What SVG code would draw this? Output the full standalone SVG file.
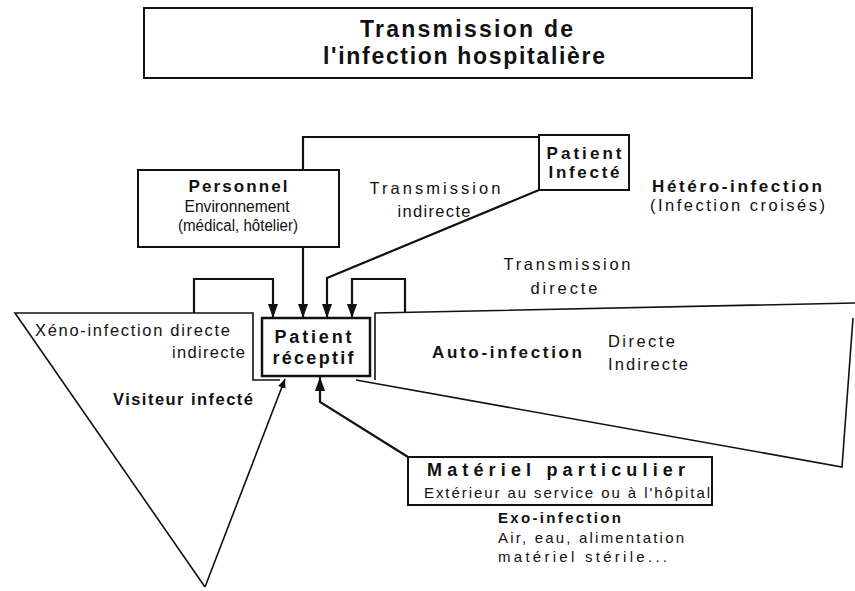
<svg xmlns="http://www.w3.org/2000/svg" width="855" height="591" viewBox="0 0 855 591">
<defs>
<marker id="arr" markerUnits="userSpaceOnUse" markerWidth="14" markerHeight="10" viewBox="0 0 14 10" refX="14" refY="5" orient="auto">
<path d="M0,0 L14,5 L0,10 z" fill="#111"/>
</marker>
<marker id="arrs" markerUnits="userSpaceOnUse" markerWidth="9" markerHeight="8" viewBox="0 0 9 8" refX="9" refY="4" orient="auto">
<path d="M0,0 L9,4 L0,8 z" fill="#111"/>
</marker>
</defs>
<style>
.box{fill:#fff;stroke:#111;stroke-width:2}
.shape{fill:none;stroke:#111;stroke-width:1.6;stroke-linejoin:miter}
.con{fill:none;stroke:#111;stroke-width:2.2}
text{font-family:"Liberation Sans",Arial,sans-serif;fill:#111;font-size:16.5px}
.b{font-weight:bold}
.t{font-weight:bold;font-size:23px}
.s15{font-size:15px}
.s16{font-size:16px}
.s17{font-size:17px}
.s18{font-size:18px}
</style>
<rect width="855" height="591" fill="#fff"/>

<g id="title">
<rect class="box" x="144" y="8" width="608" height="70"/>
<text class="t" x="360" y="37" textLength="213" lengthAdjust="spacing">Transmission de</text>
<text class="t" x="323" y="64" textLength="282" lengthAdjust="spacing">l'infection hospitalière</text>
</g>

<g id="visiteur-infecte">
<polyline class="shape" points="205,587 15,313 253,313 253,380 280,380"/>
<text x="35" y="336" textLength="195" lengthAdjust="spacing">Xéno-infection directe</text>
<text x="172" y="358" textLength="73" lengthAdjust="spacing">indirecte</text>
<text class="b" x="113" y="405" textLength="140" lengthAdjust="spacing">Visiteur infecté</text>
</g>

<g id="auto-infection">
<path class="shape" d="M375,380 L375,313 L855,303 M853,318 L842,467 L356,380"/>
<text class="b s17" x="432" y="358" textLength="150" lengthAdjust="spacing">Auto-infection</text>
<text x="608" y="347" textLength="67" lengthAdjust="spacing">Directe</text>
<text x="608" y="370" textLength="80" lengthAdjust="spacing">Indirecte</text>
</g>

<g id="connectors">
<polyline class="con" points="539,137 303,137 303,170"/>
<line class="con" x1="303" y1="247" x2="303" y2="318" marker-end="url(#arr)"/>
<polyline class="con" points="539,190 327,278 327,318" marker-end="url(#arr)"/>
<polyline class="con" points="194,313 194,279 273,279 273,318" marker-end="url(#arr)"/>
<polyline class="con" points="405,312 405,279 352,279 352,318" marker-end="url(#arr)"/>
<polyline class="con" points="408,457 320,402 320,377" marker-end="url(#arr)"/>
<line class="shape" x1="205" y1="587" x2="285" y2="379" marker-end="url(#arrs)"/>
</g>

<g id="personnel">
<rect class="box" x="138" y="170" width="201" height="77"/>
<text class="b s17" x="238" y="192" text-anchor="middle" textLength="99" lengthAdjust="spacing">Personnel</text>
<text class="s16" x="237" y="212" text-anchor="middle" textLength="105" lengthAdjust="spacingAndGlyphs">Environnement</text>
<text class="s16" x="238" y="231" text-anchor="middle" textLength="120" lengthAdjust="spacingAndGlyphs">(médical, hôtelier)</text>
</g>

<g id="patient-infecte">
<rect class="box" x="539" y="135" width="90" height="55"/>
<text class="b s17" x="584" y="159" text-anchor="middle" textLength="75" lengthAdjust="spacing">Patient</text>
<text class="b s17" x="584" y="178" text-anchor="middle" textLength="71" lengthAdjust="spacing">Infecté</text>
</g>

<g id="patient-receptif">
<rect class="box" x="262" y="318" width="108" height="58" style="stroke-width:2.5"/>
<text class="b s18" x="313" y="343" text-anchor="middle" textLength="77" lengthAdjust="spacing">Patient</text>
<text class="b s18" x="313" y="364" text-anchor="middle" textLength="81" lengthAdjust="spacing">réceptif</text>
</g>

<g id="materiel">
<rect class="box" x="408" y="457" width="304" height="48"/>
<text class="b s18" x="556" y="476" text-anchor="middle" textLength="258" lengthAdjust="spacing">Matériel particulier</text>
<text class="s15" x="567" y="498" text-anchor="middle" textLength="286" lengthAdjust="spacing">Extérieur au service ou à l'hôpital</text>
</g>

<g id="labels">
<text x="435" y="194" text-anchor="middle" textLength="131" lengthAdjust="spacing">Transmission</text>
<text x="434" y="217" text-anchor="middle" textLength="73" lengthAdjust="spacing">indirecte</text>
<text class="b s17" x="652" y="192" textLength="170" lengthAdjust="spacing">Hétéro-infection</text>
<text x="650" y="211" textLength="175" lengthAdjust="spacing">(Infection croisés)</text>
<text x="567" y="270" text-anchor="middle" textLength="127" lengthAdjust="spacing">Transmission</text>
<text x="564" y="294" text-anchor="middle" textLength="67" lengthAdjust="spacing">directe</text>
<text class="b s15" x="498" y="523" textLength="123" lengthAdjust="spacing">Exo-infection</text>
<text class="s15" x="498" y="543" textLength="186" lengthAdjust="spacing">Air, eau, alimentation</text>
<text class="s15" x="498" y="562" textLength="169" lengthAdjust="spacing">matériel stérile...</text>
</g>
</svg>
